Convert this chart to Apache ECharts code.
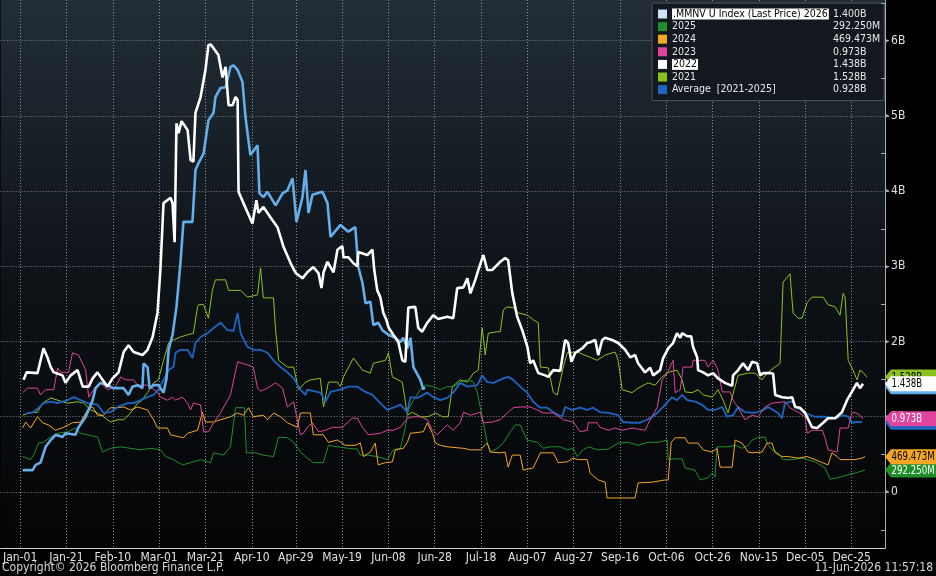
<!DOCTYPE html>
<html>
<head>
<meta charset="utf-8">
<title>.MMNV U Index - seasonality 2021-2026</title>
<script src="https://cdn.jsdelivr.net/npm/echarts@6/dist/echarts.min.js"></script>
<style>
  html, body { margin: 0; padding: 0; background: #000; }
  #chart { width: 936px; height: 576px; }
</style>
</head>
<body>
<div id="chart"></div>
<script>
  // axis ticks (day of year, leap-year calendar) and their labels
  var TICK_DAYS = [0, 20, 40, 60, 80, 100, 119, 139, 159, 179, 199, 219, 239, 259, 279, 299, 319, 339, 359];
  var TICK_LABELS = ['Jan-01', 'Jan-21', 'Feb-10', 'Mar-01', 'Mar-21', 'Apr-10', 'Apr-29', 'May-19', 'Jun-08',
    'Jun-28', 'Jul-18', 'Aug-07', 'Aug-27', 'Sep-16', 'Oct-06', 'Oct-26', 'Nov-15', 'Dec-05', 'Dec-25'];
  var Y_TICKS = [0, 1, 2, 3, 4, 5, 6];
  var Y_MINOR = [-0.5, 0.5, 1.5, 2.5, 3.5, 4.5, 5.5, 6.5];

  // values in billions, [day, value]
  var y2026 = [[1.1,0.29],[5.4,0.29],[6.7,0.36],[8.8,0.39],[11.0,0.60],[13.2,0.69],[15.3,0.76],[18.3,0.73],[19.6,0.78],
    [23.9,0.76],[25.2,0.86],[28.3,1.00],[31.3,1.22],[32.6,1.38],[34.7,1.45],[37.7,1.42],[40.3,1.38],[44.7,1.38],[46.8,1.29],
    [48.5,1.40],[50.7,1.42],[52.8,1.38],[53.3,1.71],[55.0,1.66],[55.9,1.38],[57.6,1.42],[59.7,1.42],[61.9,1.32],[63.2,1.51],
    [64.1,1.89],[65.8,2.09],[67.5,2.46],[69.2,3.04],[70.5,3.59],[74.4,3.59],[75.7,4.28],[77.0,4.37],[79.2,4.50],[81.3,4.94],
    [83.5,5.04],[84.3,5.25],[86.5,5.37],[88.7,5.38],[90.8,5.65],[92.1,5.67],[93.9,5.61],[96.0,5.45],[97.3,4.98],[99.4,4.48],
    [102.5,4.61],[103.3,3.97],[105.0,3.92],[106.8,3.99],[110.3,3.81],[113.3,3.97],[115.4,4.01],[117.6,4.17],[119.3,3.59],
    [121.9,3.92],[123.2,4.28],[124.5,3.71],[126.2,3.95],[130.5,3.99],[132.7,3.84],[134.0,3.39],[138.3,3.55],[141.7,3.46],
    [144.7,3.52],[146.0,2.99],[147.8,2.78],[149.1,2.51],[151.2,2.53],[152.5,2.22],[154.6,2.25],[156.4,2.15],[159.0,2.09],
    [162.0,2.05],[164.2,1.99],[165.4,2.05],[167.2,1.91],[168.5,2.05],[169.8,1.66],[172.8,1.49],[174.1,1.36],[174.5,1.400]];

  var y2025 = [[1.1,0.47],[4.5,0.43],[5.8,0.49],[8.0,0.65],[10.1,0.66],[13.2,0.73],[16.2,0.78],[20.5,0.80],[23.9,0.85],
    [26.1,0.78],[29.1,0.76],[33.4,0.73],[35.6,0.53],[39.0,0.58],[43.4,0.60],[47.7,0.58],[52.0,0.56],[56.3,0.58],[60.6,0.56],
    [62.8,0.47],[66.2,0.43],[70.1,0.36],[73.6,0.39],[77.9,0.43],[82.2,0.39],[83.5,0.52],[87.8,0.49],[90.8,0.60],[93.0,1.12],
    [96.8,1.12],[97.7,0.52],[101.6,0.52],[105.0,0.49],[109.4,0.47],[111.6,0.73],[115.4,0.72],[118.1,0.66],[121.0,0.53],
    [124.0,0.45],[126.6,0.39],[130.9,0.39],[133.1,0.62],[137.0,0.60],[141.7,0.58],[145.6,0.57],[146.9,0.49],[149.9,0.49],
    [154.2,0.47],[158.5,0.43],[161.1,0.56],[164.2,0.58],[166.3,0.86],[167.6,1.09],[169.8,1.22],[172.8,1.36],[174.9,1.42],
    [178.4,1.40],[181.4,1.36],[184.4,1.40],[187.0,1.40],[190.0,1.46],[193.1,1.49],[195.7,1.46],[197.4,1.32],[198.7,1.12],
    [200.0,0.92],[201.7,0.65],[203.0,0.53],[206.0,0.58],[208.6,0.65],[211.6,0.80],[213.8,0.89],[215.9,0.89],[218.9,0.69],
    [223.3,0.66],[225.8,0.58],[228.9,0.60],[233.2,0.60],[236.2,0.56],[238.8,0.58],[240.5,0.47],[243.1,0.56],[245.3,0.60],
    [249.6,0.56],[253.9,0.57],[258.2,0.65],[262.5,0.66],[266.8,0.62],[271.1,0.66],[275.5,0.66],[279.4,0.69],[279.8,0.43],
    [281.9,0.44],[285.8,0.44],[287.1,0.32],[291.4,0.29],[293.6,0.16],[297.0,0.19],[298.8,0.25],[300.0,0.20],[300.9,0.60],
    [305.6,0.60],[308.7,0.62],[311.7,0.58],[314.3,0.62],[316.0,0.69],[318.2,0.72],[321.6,0.73],[322.5,0.65],[324.6,0.56],
    [327.2,0.52],[329.4,0.43],[333.3,0.43],[337.6,0.45],[343.2,0.40],[347.5,0.32],[349.7,0.17],[353.1,0.19],[357.5,0.23],
    [360.4,0.25],[362.6,0.27],[364.8,0.29225]];

  var y2024 = [[1.1,0.85],[2.4,0.93],[4.5,0.85],[7.5,1.00],[9.7,0.92],[12.3,0.89],[15.3,0.82],[18.8,0.86],[22.6,0.92],
    [26.1,0.93],[29.1,1.09],[31.3,1.13],[33.4,1.02],[36.0,1.02],[39.0,1.12],[42.1,1.12],[44.7,1.13],[47.7,1.09],[50.7,1.13],
    [55.0,1.09],[57.6,0.96],[59.3,0.85],[63.6,0.85],[64.9,0.76],[70.5,0.72],[72.3,0.78],[76.6,0.82],[78.7,1.06],[80.0,0.93],
    [83.5,0.93],[86.5,0.96],[90.8,1.00],[93.9,1.05],[96.4,1.02],[98.6,1.12],[100.7,1.00],[105.0,1.02],[106.8,0.96],
    [109.4,1.05],[112.4,1.00],[115.4,0.92],[119.7,0.86],[121.0,1.05],[125.3,1.05],[126.6,0.76],[130.9,0.76],[133.1,0.66],
    [137.0,0.69],[140.4,0.62],[144.7,0.62],[146.9,0.65],[148.2,0.47],[151.2,0.53],[153.3,0.65],[154.6,0.36],[157.7,0.39],
    [160.7,0.40],[162.0,0.56],[165.4,0.58],[167.2,0.66],[168.5,0.78],[174.1,0.80],[175.8,0.92],[178.0,0.78],[179.3,0.65],
    [181.4,0.62],[184.4,0.60],[191.4,0.58],[194.4,0.56],[198.7,0.56],[201.7,0.65],[203.0,0.53],[207.3,0.52],[209.4,0.53],
    [210.7,0.33],[212.5,0.49],[215.9,0.49],[217.2,0.29],[221.5,0.32],[224.6,0.52],[230.2,0.52],[232.3,0.39],[236.2,0.40],
    [238.8,0.45],[241.0,0.43],[244.8,0.43],[246.1,0.25],[249.6,0.16],[252.6,0.13],[253.4,-0.08],[261.2,-0.08],[265.5,-0.08],
    [266.8,0.12],[272.9,0.13],[278.5,0.16],[279.8,0.16],[281.1,0.66],[282.8,0.72],[287.1,0.72],[288.4,0.65],[292.7,0.65],
    [294.9,0.56],[298.8,0.53],[300.9,0.58],[302.2,0.33],[307.4,0.33],[308.7,0.69],[311.7,0.65],[314.3,0.53],[316.0,0.52],
    [320.3,0.53],[322.5,0.65],[324.6,0.65],[326.0,0.52],[329.0,0.47],[331.6,0.47],[335.9,0.45],[339.8,0.47],[343.2,0.43],
    [346.3,0.39],[348.8,0.36],[350.5,0.52],[352.7,0.47],[354.0,0.43],[360.4,0.43],[363.5,0.45],[364.8,0.469473]];

  var y2023 = [[1.1,1.32],[3.2,1.38],[7.5,1.38],[8.8,1.29],[11.0,1.36],[14.5,1.36],[16.2,1.65],[17.5,1.59],[20.9,1.59],
    [22.6,1.85],[25.2,1.82],[28.3,1.62],[29.6,1.26],[32.6,1.40],[34.7,1.45],[37.7,1.36],[41.2,1.40],[43.4,1.53],[45.5,1.49],
    [49.0,1.49],[50.7,1.42],[55.0,1.42],[59.3,1.33],[60.6,1.26],[63.6,1.22],[65.8,1.26],[67.1,1.22],[70.1,1.26],[72.3,1.18],
    [73.6,1.09],[74.8,1.18],[77.9,1.16],[79.2,0.80],[81.3,0.80],[83.5,0.92],[86.5,1.05],[90.8,1.29],[93.9,1.73],[98.1,1.69],
    [100.7,1.66],[102.5,1.38],[103.8,1.34],[106.8,1.38],[110.3,1.45],[113.3,1.38],[115.4,1.13],[118.1,1.20],[121.0,0.76],
    [122.3,0.78],[124.0,0.86],[126.2,0.92],[128.8,0.80],[131.9,0.82],[134.8,0.86],[139.1,0.86],[143.4,0.98],[145.6,0.98],
    [147.8,0.86],[150.3,0.76],[155.5,0.78],[158.5,0.82],[161.1,0.82],[164.2,0.86],[167.2,0.98],[169.8,1.00],[172.8,1.00],
    [175.8,0.96],[178.0,0.82],[180.1,0.76],[184.4,0.89],[187.0,0.82],[190.0,0.92],[191.4,1.06],[194.4,1.02],[198.7,1.06],
    [200.0,0.92],[203.8,0.93],[207.3,0.96],[210.3,1.05],[212.9,1.12],[215.9,1.13],[220.2,1.13],[223.3,1.09],[225.8,1.05],
    [230.2,1.05],[234.5,0.96],[238.8,0.93],[241.8,0.80],[244.8,0.82],[245.3,0.92],[249.1,0.92],[250.4,0.86],[253.9,0.82],
    [256.9,0.85],[259.9,0.82],[264.2,0.85],[269.8,0.82],[272.0,0.96],[275.0,1.12],[277.2,1.49],[279.4,1.58],[281.9,1.75],
    [282.8,1.32],[285.0,1.36],[286.2,1.66],[290.1,1.66],[290.5,1.75],[295.7,1.75],[297.0,1.66],[299.2,1.75],[301.3,1.62],
    [303.1,1.33],[306.5,1.33],[307.8,1.22],[310.0,1.12],[313.0,0.96],[316.0,1.02],[318.6,1.00],[321.6,1.13],[324.6,1.18],
    [330.2,1.20],[332.4,1.12],[335.9,1.06],[338.9,1.00],[339.8,0.78],[341.9,0.82],[346.3,0.82],[347.5,0.72],[348.8,0.56],
    [352.7,0.53],[354.0,0.85],[357.5,0.85],[359.1,1.05],[360.4,1.06],[362.6,1.02],[363.9,0.973]];

  var y2022 = [[1.5,1.49],[2.8,1.59],[7.5,1.58],[10.1,1.91],[11.9,1.78],[13.2,1.66],[14.5,1.59],[18.3,1.55],[19.6,1.45],
    [21.8,1.55],[24.8,1.62],[27.0,1.40],[29.6,1.40],[31.3,1.51],[33.4,1.59],[35.6,1.49],[37.7,1.40],[39.9,1.51],[42.5,1.59],
    [44.7,1.86],[46.8,1.95],[49.0,1.86],[52.8,1.82],[55.0,1.89],[57.2,2.06],[59.3,2.38],[60.6,2.98],[61.9,3.84],[64.9,3.91],
    [65.8,3.84],[66.7,3.32],[67.5,4.90],[68.4,4.77],[69.7,4.93],[72.3,4.81],[73.6,4.41],[74.8,4.39],[75.7,5.04],[77.9,5.25],
    [80.0,5.61],[81.3,5.94],[82.2,5.95],[83.5,5.90],[85.6,5.81],[87.4,5.51],[88.7,5.65],[90.0,5.14],[91.7,5.14],[93.0,5.25],
    [93.9,5.21],[94.3,3.99],[96.4,3.84],[100.3,3.57],[102.0,3.88],[102.9,3.71],[105.0,3.79],[108.1,3.65],[111.1,3.52],
    [113.7,3.26],[116.8,3.04],[119.0,2.91],[121.9,2.84],[124.0,2.92],[126.6,2.99],[128.8,2.91],[130.1,2.71],[131.0,2.92],
    [132.7,3.06],[134.0,2.99],[135.3,2.92],[137.0,3.22],[139.1,3.27],[139.6,3.12],[141.7,3.12],[143.9,3.04],[145.6,3.00],
    [146.0,3.19],[149.9,3.15],[152.1,3.22],[152.9,2.95],[154.2,2.68],[155.5,2.59],[156.8,2.38],[158.1,2.29],[159.0,2.19],
    [161.1,2.09],[163.3,1.99],[165.0,1.75],[166.3,1.73],[167.6,2.45],[170.6,2.46],[171.9,2.18],[173.6,2.13],[175.8,2.25],
    [178.4,2.35],[180.5,2.30],[184.4,2.33],[187.0,2.31],[188.7,2.71],[191.4,2.72],[193.1,2.84],[194.4,2.64],[196.5,2.82],
    [197.8,2.95],[200.0,3.15],[201.7,2.95],[203.8,2.95],[207.3,3.06],[209.4,3.11],[210.7,3.08],[212.5,2.64],[214.6,2.33],
    [216.8,2.15],[219.0,1.93],[220.2,1.71],[221.5,1.75],[223.7,1.58],[226.7,1.55],[228.0,1.53],[230.2,1.62],[233.2,1.61],
    [235.3,2.02],[236.6,1.98],[238.0,1.73],[239.7,1.85],[242.7,1.91],[244.8,1.98],[246.1,1.99],[248.3,2.02],[249.6,1.82],
    [251.3,2.02],[252.6,2.05],[255.6,2.02],[258.2,1.98],[261.2,1.89],[263.4,1.79],[265.5,1.82],[266.8,1.71],[269.8,1.59],
    [272.0,1.65],[273.3,1.55],[276.3,1.62],[277.6,1.78],[279.8,1.91],[281.9,1.98],[283.6,2.11],[285.0,2.05],[285.8,2.11],
    [288.0,2.07],[289.7,2.07],[290.5,1.93],[292.3,1.79],[292.7,1.62],[294.9,1.59],[297.0,1.55],[299.2,1.58],[301.3,1.51],
    [304.3,1.45],[307.4,1.41],[307.8,1.55],[310.0,1.62],[312.1,1.71],[314.3,1.62],[316.0,1.73],[318.2,1.71],[319.5,1.55],
    [320.8,1.58],[323.8,1.58],[325.1,1.57],[326.0,1.29],[329.0,1.26],[331.6,1.25],[333.3,1.26],[334.6,1.13],[336.7,1.12],
    [338.9,1.05],[341.9,0.86],[344.1,0.85],[346.7,0.92],[348.8,0.98],[351.9,0.98],[354.8,1.06],[357.0,1.22],[359.1,1.33],
    [361.3,1.45],[362.6,1.38],[363.9,1.438]];

  var y2021 = [[1.1,1.02],[3.7,1.05],[7.5,1.06],[9.7,1.18],[13.2,1.25],[16.2,1.22],[20.5,1.18],[24.8,1.20],[27.4,1.18],
    [30.4,1.09],[33.4,1.05],[36.0,1.00],[39.0,0.93],[42.1,0.96],[44.7,0.96],[47.7,1.05],[50.7,1.18],[52.0,1.20],[55.0,1.32],
    [57.6,1.45],[59.7,1.49],[61.9,1.75],[64.1,1.98],[66.2,2.02],[69.2,2.06],[72.3,2.09],[74.8,2.11],[76.6,2.46],[77.0,2.49],
    [79.2,2.49],[81.3,2.31],[83.0,2.68],[84.3,2.82],[88.7,2.82],[90.0,2.68],[95.2,2.68],[98.1,2.59],[102.5,2.62],[103.8,2.98],
    [105.0,2.58],[109.4,2.58],[110.3,2.15],[111.6,1.75],[115.4,1.66],[118.1,1.66],[120.2,1.36],[123.2,1.46],[125.3,1.49],
    [129.6,1.51],[131.0,1.13],[133.1,1.46],[137.0,1.46],[138.3,1.40],[139.6,1.53],[143.9,1.78],[147.8,1.62],[151.2,1.58],
    [152.5,1.71],[157.7,1.75],[159.0,1.85],[160.7,1.53],[165.0,1.46],[167.2,1.02],[169.3,1.06],[172.8,1.00],[176.2,1.00],
    [179.3,1.05],[182.3,1.00],[184.8,1.00],[186.6,1.40],[190.0,1.49],[193.1,1.46],[195.7,1.58],[197.8,1.62],[199.5,2.18],
    [200.8,1.82],[202.1,2.11],[206.0,2.13],[207.3,2.13],[208.6,2.42],[210.3,2.46],[212.9,2.45],[215.1,2.38],[219.0,2.35],
    [221.5,2.29],[223.7,2.25],[224.6,1.66],[228.0,1.65],[230.2,1.32],[231.9,1.29],[234.5,1.66],[236.2,1.85],[240.5,1.86],
    [246.1,1.79],[249.1,1.75],[252.6,1.82],[256.9,1.86],[258.2,1.75],[259.9,1.36],[264.2,1.32],[266.8,1.38],[271.1,1.45],
    [274.2,1.42],[277.2,1.53],[279.8,1.59],[283.6,1.62],[285.8,1.49],[287.1,1.33],[290.1,1.32],[292.7,1.36],[294.9,1.29],
    [298.8,1.26],[301.3,1.36],[303.5,1.22],[305.6,1.05],[307.4,1.26],[310.0,1.55],[314.3,1.58],[317.3,1.58],[320.3,1.49],
    [322.5,1.58],[325.9,1.66],[328.1,1.71],[329.4,2.79],[332.4,2.90],[333.7,2.38],[335.9,2.31],[337.6,2.31],[339.8,2.52],
    [341.9,2.59],[346.7,2.59],[348.8,2.49],[351.9,2.46],[354.0,2.35],[355.3,2.64],[356.2,2.59],[357.5,1.75],[359.6,1.62],
    [361.3,1.49],[362.6,1.62],[363.9,1.59],[365.6,1.528]];

  var yAvg = [[2.4,1.04],[5.8,1.06],[8.0,1.12],[10.1,1.18],[13.2,1.20],[16.2,1.18],[20.5,1.22],[23.1,1.26],[26.1,1.22],
    [29.1,1.18],[33.4,1.16],[36.0,1.05],[39.0,1.06],[42.1,1.13],[46.4,1.18],[49.0,1.18],[52.0,1.22],[55.0,1.26],[57.6,1.29],
    [59.7,1.36],[61.9,1.49],[64.1,1.62],[66.2,1.66],[67.1,1.85],[69.2,1.89],[72.3,1.89],[74.4,1.78],[75.7,1.98],[77.9,2.06],
    [80.9,2.11],[83.5,2.18],[86.5,2.25],[89.5,2.15],[92.1,2.14],[93.9,2.38],[95.2,2.11],[98.1,1.93],[100.7,1.89],[103.8,1.89],
    [106.8,1.85],[109.4,1.75],[112.4,1.66],[115.4,1.59],[118.1,1.51],[121.0,1.36],[123.2,1.29],[124.0,1.36],[129.6,1.32],
    [131.9,1.20],[134.0,1.33],[138.3,1.36],[141.7,1.40],[145.6,1.40],[149.1,1.33],[152.1,1.29],[155.5,1.18],[158.5,1.09],
    [161.1,1.12],[164.2,1.16],[167.2,1.06],[168.5,1.26],[171.5,1.25],[175.8,1.32],[178.4,1.26],[181.4,1.22],[184.4,1.25],
    [187.0,1.32],[190.0,1.45],[193.1,1.40],[197.4,1.42],[199.5,1.55],[201.7,1.46],[204.3,1.45],[208.6,1.51],[210.7,1.53],
    [212.9,1.49],[215.9,1.40],[218.9,1.32],[221.5,1.20],[224.5,1.12],[227.6,1.12],[230.2,1.06],[234.0,1.00],[235.3,1.13],
    [238.4,1.09],[241.8,1.12],[244.8,1.09],[247.4,1.12],[250.4,1.06],[253.9,1.05],[258.2,1.02],[260.3,0.93],[264.2,0.92],
    [267.7,0.92],[270.7,0.96],[272.9,1.00],[275.0,1.05],[277.6,1.13],[281.5,1.26],[283.6,1.22],[285.8,1.29],[288.0,1.22],
    [291.4,1.20],[294.4,1.16],[297.0,1.09],[300.0,1.09],[303.1,1.13],[305.2,1.00],[307.8,1.02],[310.0,1.13],[313.0,1.06],
    [317.3,1.05],[320.8,1.09],[323.0,1.13],[325.1,1.09],[327.2,1.05],[328.9,0.98],[330.2,1.18],[333.3,1.20],[335.4,1.12],
    [338.9,1.05],[343.2,1.00],[347.5,1.00],[351.9,0.98],[355.3,1.02],[357.5,1.00],[359.1,0.92],[361.3,0.93],[363.5,0.928]];

  var X_MIN = -8.42, X_MAX = 373.4;
  var Y_MIN = -0.745, Y_MAX = 6.54;
  var FONT = '"DejaVu Sans Condensed", "Liberation Sans", sans-serif';

  // drawing order: last on top
  var SERIES = [
    { name: '2021', data: y2021, color: '#8cc21e', width: 1, tagText: '#000' },
    { name: '2025', data: y2025, color: '#1f8f2a', width: 1, tagText: '#fff' },
    { name: '2024', data: y2024, color: '#f5a623', width: 1, tagText: '#000' },
    { name: 'Average  [2021-2025]', data: yAvg, color: '#1a66c2', width: 1.8, tagText: '#fff' },
    { name: '2023', data: y2023, color: '#e0449c', width: 1, tagText: '#fff' },
    { name: '.MMNV U Index (Last Price) 2026', data: y2026, color: '#64aeea', width: 2.6, tagText: '#000' },
    { name: '2022', data: y2022, color: '#ffffff', width: 2.6, tagText: '#000' }
  ];
  var LEGEND_ORDER = ['.MMNV U Index (Last Price) 2026', '2025', '2024', '2023', '2022', '2021', 'Average  [2021-2025]'];
  var HIGHLIGHT = ['.MMNV U Index (Last Price) 2026', '2022'];

  function fmt(v) {
    return v < 0.9 ? (v * 1000).toFixed(3) + 'M' : v.toFixed(3) + 'B';
  }
  function lastVal(name) {
    for (var i = 0; i < SERIES.length; i++) {
      if (SERIES[i].name === name) { var d = SERIES[i].data; return d[d.length - 1][1]; }
    }
  }

  // legend text columns
  var LEG_FS = 10.5;
  var ctx = document.createElement('canvas').getContext('2d');
  ctx.font = LEG_FS + 'px ' + FONT;
  var NAME_W = Math.max(161, Math.ceil(ctx.measureText(HIGHLIGHT[0]).width) + 4);
  var rich = {
    n: { width: NAME_W, color: '#e8e8e8', fontSize: LEG_FS, fontFamily: FONT, lineHeight: 12 },
    v: { color: '#e8e8e8', fontSize: LEG_FS, fontFamily: FONT, lineHeight: 12 },
    h: { color: '#000', backgroundColor: '#fff', fontSize: LEG_FS, fontFamily: FONT, lineHeight: 12, padding: [0, 1] }
  };
  HIGHLIGHT.forEach(function (nm, i) {
    rich['g' + i] = { width: Math.max(1, NAME_W - ctx.measureText(nm).width - 2), fontSize: LEG_FS, lineHeight: 12 };
  });

  // last value of every series, shown as a tag on the value axis
  var tagData = SERIES.map(function (s, i) {
    return [X_MAX, s.data[s.data.length - 1][1], i];
  });
  var minorData = Y_MINOR.map(function (v) { return [X_MAX, v]; });

  var chart = echarts.init(document.getElementById('chart'), null, { renderer: 'canvas' });

  var option = {
    backgroundColor: '#000',
    animation: false,
    textStyle: { fontFamily: FONT },
    grid: {
      left: 0, top: 0, right: 51, bottom: 28,
      show: true, borderWidth: 0,
      backgroundColor: new echarts.graphic.LinearGradient(0, 0, 0, 1, [
        { offset: 0, color: '#222d37' },
        { offset: 0.5, color: '#0e1318' },
        { offset: 1, color: '#030405' }
      ])
    },
    legend: {
      left: 652, top: 3,
      orient: 'vertical',
      icon: 'rect', itemWidth: 9, itemHeight: 9, itemGap: 0.6,
      padding: [5, 4, 5, 6],
      backgroundColor: '#12181e', borderColor: '#50565c', borderWidth: 1, borderRadius: 2,
      selectedMode: false,
      data: LEGEND_ORDER.map(function (nm) {
        var item = { name: nm };
        if (nm.indexOf('2026') >= 0) item.itemStyle = { color: '#cfe4f5' };
        return item;
      }),
      formatter: function (nm) {
        var hi = HIGHLIGHT.indexOf(nm);
        var val = fmt(lastVal(nm));
        if (hi >= 0) return '{h|' + nm + '}{g' + hi + '| }{v|' + val + '}';
        return '{n|' + nm + '}{v|' + val + '}';
      },
      textStyle: { color: '#e8e8e8', fontSize: LEG_FS, lineHeight: 12, rich: rich }
    },
    xAxis: {
      type: 'value', min: X_MIN, max: X_MAX,
      axisLine: { show: true, onZero: false, lineStyle: { color: '#d0d0d0', width: 1 } },
      axisTick: { show: false, customValues: TICK_DAYS },
      axisLabel: {
        customValues: TICK_DAYS, color: '#e0e0e0', fontSize: 12, margin: 4,
        formatter: function (v) { return TICK_LABELS[TICK_DAYS.indexOf(v)] || ''; }
      },
      splitLine: { show: true, lineStyle: { color: '#8a9096', type: [1, 2], width: 1 } }
    },
    yAxis: {
      type: 'value', position: 'right', min: Y_MIN, max: Y_MAX,
      axisLine: { show: true, onZero: false, lineStyle: { color: '#a8acb0', width: 1 } },
      axisTick: { show: true, customValues: Y_TICKS, length: 4, lineStyle: { color: '#a8acb0' } },
      axisLabel: {
        customValues: Y_TICKS, color: '#e0e0e0', fontSize: 12, margin: 0,
        formatter: function (v) { return '{t|\u25B8}' + (v === 0 ? '0' : v + 'B'); },
        rich: { t: { color: '#a8acb0', fontSize: 9, padding: [0, 2, 0, 0] } }
      },
      splitLine: { show: true, lineStyle: { color: '#80868c', type: [1, 2], width: 1 } }
    },
    series: SERIES.map(function (s, i) {
      return {
        name: s.name, type: 'line', data: s.data,
        showSymbol: false, symbol: 'none', z: 2 + i,
        lineStyle: { color: s.color, width: s.width },
        itemStyle: { color: s.color }
      };
    }).concat([{
      // half-unit minor ticks, inside the value axis
      name: 'minor', type: 'custom', coordinateSystem: 'cartesian2d',
      silent: true, clip: false, z: 19,
      data: minorData,
      renderItem: function (params, api) {
        var p = api.coord([api.value(0), api.value(1)]);
        return {
          type: 'line',
          shape: { x1: p[0] - 4, y1: Math.round(p[1]) + 0.5, x2: p[0], y2: Math.round(p[1]) + 0.5 },
          style: { stroke: '#a8acb0', lineWidth: 1 }
        };
      }
    }, {
      name: 'tags', type: 'custom', coordinateSystem: 'cartesian2d',
      silent: true, clip: false, z: 20,
      data: tagData,
      renderItem: function (params, api) {
        var p = api.coord([api.value(0), api.value(1)]);
        var s = SERIES[api.value(2)];
        var k = params.dataIndex;
        var x = p[0], y = p[1];
        return {
          type: 'group',
          children: [{
            type: 'polygon', z2: 2 * k,
            shape: { points: [[x, y], [x + 6, y - 7.5], [x + 51, y - 7.5], [x + 51, y + 7.5], [x + 6, y + 7.5]] },
            style: { fill: s.color }
          }, {
            type: 'text', z2: 2 * k + 1, x: x + 6.5, y: y + 0.5, scaleX: 0.8,
            style: { text: fmt(api.value(1)), fill: s.tagText, font: '12px ' + FONT, align: 'left', verticalAlign: 'middle' }
          }]
        };
      }
    }]),
    graphic: [
      { type: 'text', left: 2, top: 562, style: { text: 'Copyright\u00A9 2026 Bloomberg Finance L.P.', fill: '#d8d8d8', font: '12px ' + FONT } },
      { type: 'text', right: 3, top: 562, style: { text: '11-Jun-2026 11:57:18', fill: '#d8d8d8', font: '12px ' + FONT } }
    ]
  };

  chart.setOption(option);
</script>
</body>
</html>
